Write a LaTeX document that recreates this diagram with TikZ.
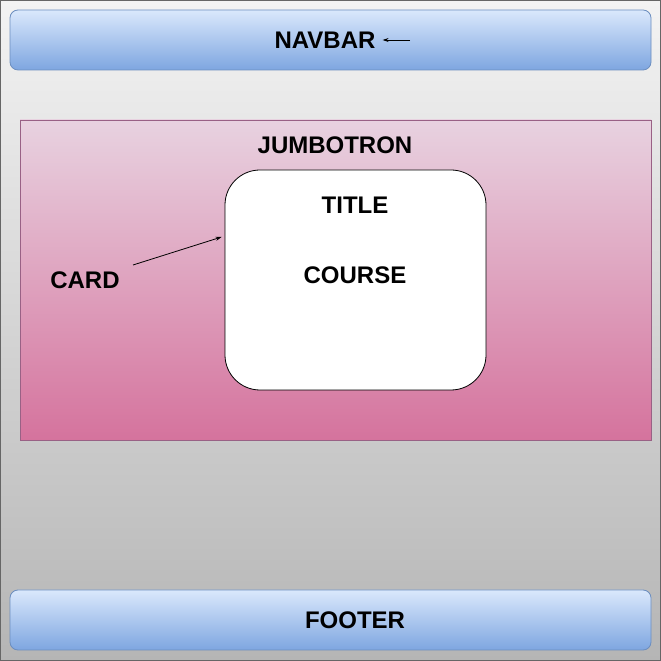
\documentclass[tikz,border=0pt]{standalone}
\usepackage{fontspec}
\setmainfont{Liberation Sans}
\usepackage{xcolor}
\usetikzlibrary{positioning}
\usetikzlibrary{arrows.meta}

\definecolor{pageTop}{HTML}{F3F3F3}
\definecolor{pageBot}{HTML}{B5B5B5}
\definecolor{barTop}{HTML}{DAE8FC}
\definecolor{barBot}{HTML}{7EA6E0}
\definecolor{barLine}{HTML}{6C8EBF}
\definecolor{jumboTop}{HTML}{E8D2E0}
\definecolor{jumboBot}{HTML}{D5739D}
\definecolor{jumboLine}{HTML}{996185}

\tikzset{
	bar/.style={draw=barLine,line width=0.8pt,rounded corners=8pt,top color=barTop,bottom color=barBot,minimum width=641pt,minimum height=60pt},
	lbl/.style={font=\fontsize{24}{28}\selectfont\bfseries,inner sep=3pt},
	pointer/.style={-{Stealth[length=6pt,width=4pt]},line width=0.8pt}
}

\begin{document}
\begin{tikzpicture}[x=1pt,y=1pt]
		% page
		\node[draw=black!60,line width=1pt,top color=pageTop,bottom color=pageBot,minimum width=660pt,minimum height=660pt,inner sep=0] (page) at (330.5,330.5) {};
		\useasboundingbox (0,0) rectangle (661,661);

		\node[bar] (navbar) at (330.5,621) {};
		\node[bar] (footer) at (330.5,41) {};
		\node[draw=jumboLine,line width=0.8pt,top color=jumboTop,bottom color=jumboBot,minimum width=631pt,minimum height=320pt] (jumbo) at (335.5,381) {};
		\node[draw,line width=0.8pt,fill=white,rounded corners=35pt,minimum width=261pt,minimum height=220pt] (card) at (355.5,381) {};

		\node[lbl] (navlabel) at (325,621) {NAVBAR};
		\node[lbl] (jumbolabel) at (335,516) {JUMBOTRON};
		\node[lbl] (titlelabel) at (355,456) {TITLE};
		\node[lbl] (courselabel) at (355,386) {COURSE};
		\node[lbl] (cardlabel) at (85,381) {CARD};
		\node[lbl] (footlabel) at (355,41) {FOOTER};

		\coordinate (navtail) at (410,621);
		\coordinate (cardtail) at (133,396);
		\coordinate (cardtip) at ([xshift=-3pt,yshift=43pt]card.west);
		\draw[pointer,shorten >=4pt] (navtail) -- (navlabel.east);
		\draw[pointer] (cardtail) -- (cardtip);
	\end{tikzpicture}
\end{document}
